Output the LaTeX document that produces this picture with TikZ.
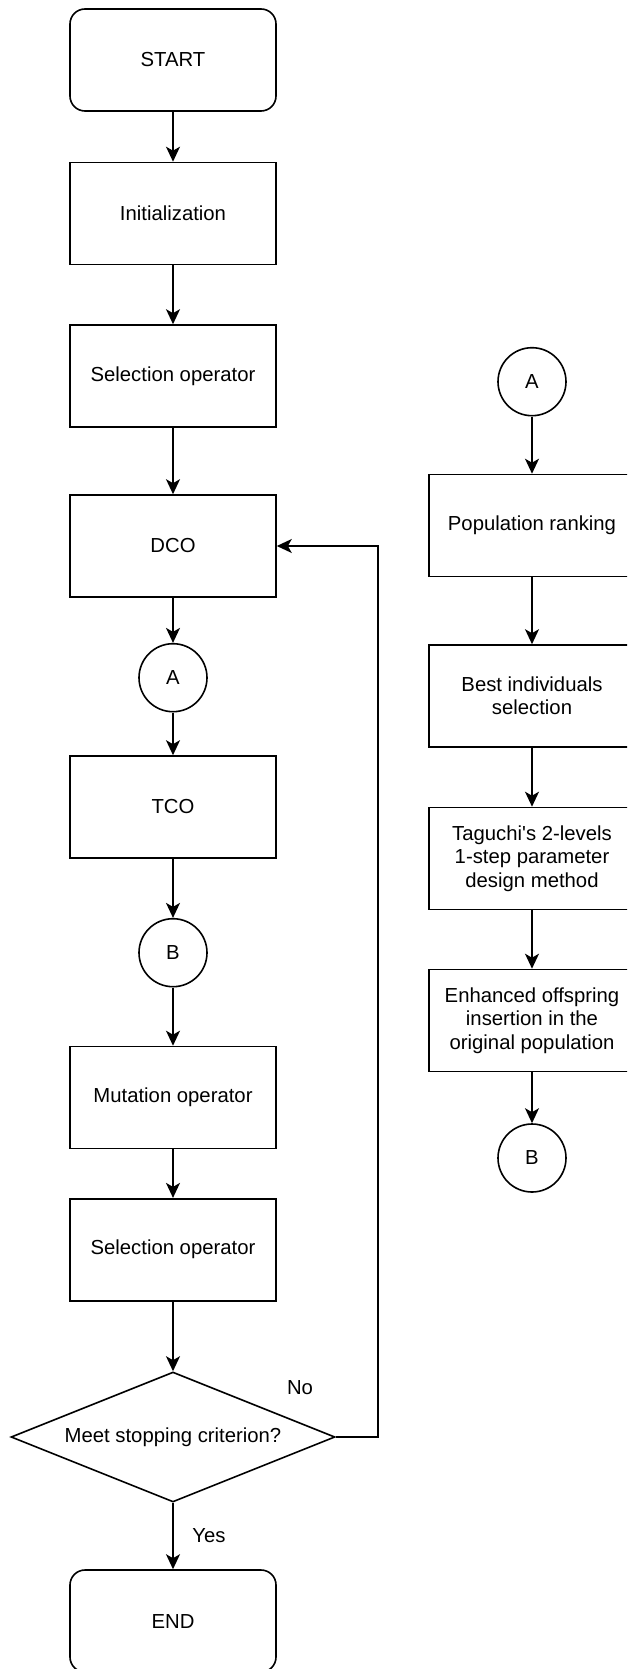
\documentclass[tikz,border=0pt]{standalone}
\usepackage{fontspec}
\setmainfont{Liberation Sans}
\usetikzlibrary{shapes.geometric,arrows.meta}
\begin{document}
\begin{tikzpicture}[x=1pt,y=-1pt,
  every node/.style={font=\fontsize{20.3}{23.3}\selectfont, align=center},
  box/.style={draw, line width=1.6pt, minimum width=206pt, minimum height=102pt, inner sep=0pt},
  term/.style={box, rounded corners=15pt},
  conn/.style={draw, circle, line width=1.6pt, minimum size=68pt, inner sep=0pt},
  dec/.style={draw, diamond, line width=1.6pt, minimum width=324pt, minimum height=130pt, aspect=2.49, inner sep=0pt},
  arr/.style={line width=1.6pt, -{Stealth[length=15pt,width=14pt,inset=4pt]}},
  lbl/.style={inner sep=0pt}
]
\useasboundingbox (0,0) rectangle (627,1669);
\clip (0,0) rectangle (627,1669);
\fill[white] (0,0) rectangle (627,1669);
% left column
\node[term] (start) at (173,60) {START};
\node[box] (init) at (173,213.5) {Initialization};
\node[box] (sel1) at (173,376) {Selection operator};
\node[box] (dco) at (173,546) {DCO};
\node[conn] (a1) at (173,677.7) {A};
\node[box] (tco) at (173,807) {TCO};
\node[conn] (b1) at (173,952.7) {B};
\node[box] (mut) at (173,1097.5) {Mutation operator};
\node[box] (sel2) at (173,1249.7) {Selection operator};
\node[dec] (dec) at (173,1437) {Meet stopping criterion?};
\node[term] (end) at (173,1621) {END};
% right column
\node[conn] (a2) at (532,381.7) {A};
\node[box] (rank) at (532,525.5) {Population ranking};
\node[box] (best) at (532,696) {Best individuals\\selection};
\node[box] (tag) at (532,858.5) {Taguchi\textquotesingle s 2-levels\\ 1-step parameter\\design method};
\node[box] (enh) at (532,1020.5) {Enhanced offspring\\insertion in the\\original population};
\node[conn] (b2) at (532,1158) {B};
% connectors
\draw[arr] (start) -- (init);
\draw[arr] (init) -- (sel1);
\draw[arr] (sel1) -- (dco);
\draw[arr] (dco) -- (a1);
\draw[arr] (a1) -- (tco);
\draw[arr] (tco) -- (b1);
\draw[arr] (b1) -- (mut);
\draw[arr] (mut) -- (sel2);
\draw[arr] (sel2) -- (dec);
\draw[arr] (dec) -- (end);
\coordinate (fb1) at (377.7,1437);
\coordinate (fb2) at (377.7,546);
\draw[arr] (dec.east) -- (fb1) -- (fb2) -- (dco.east);
\draw[arr] (a2) -- (rank);
\draw[arr] (rank) -- (best);
\draw[arr] (best) -- (tag);
\draw[arr] (tag) -- (enh);
\draw[arr] (enh) -- (b2);
% labels
\node[lbl] (no) at (300,1388) {No};
\node[lbl] (yes) at (209,1536) {Yes};
\end{tikzpicture}
\end{document}
